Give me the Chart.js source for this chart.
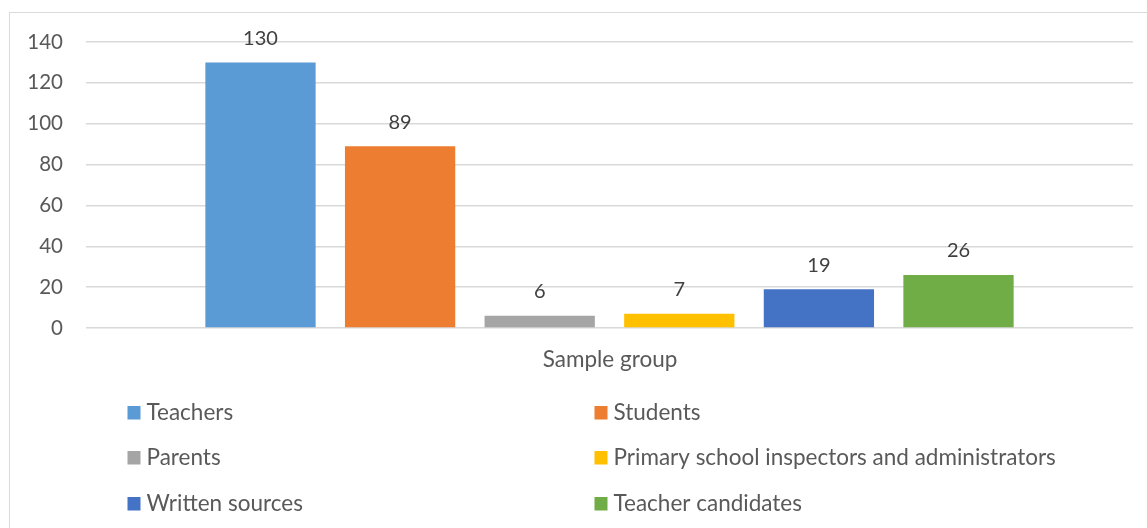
<!DOCTYPE html>
<html>
<head>
<meta charset="utf-8">
<script src="https://cdn.jsdelivr.net/npm/chart.js@4.4.0/dist/chart.umd.min.js"></script>
<style>
html,body{margin:0;padding:0;background:#fff;}
#wrap{position:relative;width:1147px;height:528px;}
</style>
</head>
<body>
<div id="wrap"><canvas id="c" width="1147" height="528"></canvas></div>
<script>
const categories = ["Sample group"];
const seriesNames = ["Teachers","Students","Parents","Primary school inspectors and administrators","Written sources","Teacher candidates"];
const seriesValues = [130, 89, 6, 7, 19, 26];
const seriesColors = ["#5B9BD5","#ED7D31","#A5A5A5","#FFC000","#4472C4","#70AD47"];
const yTicks = [0,20,40,60,80,100,120,140];

const FONT = "Lato, 'Open Sans', sans-serif";
const TXT = "#595959";

const datasets = seriesNames.map((n,i)=>({
  label:n, data:[seriesValues[i]], backgroundColor:seriesColors[i],
  categoryPercentage:0.8, barPercentage:0.79
}));

const extras = {
  id:'extras',
  beforeDraw(chart){
    const ctx=chart.ctx;
    ctx.save();
    ctx.fillStyle='#fff';ctx.fillRect(0,0,chart.width,chart.height);
    ctx.strokeStyle='#D9D9D9';ctx.lineWidth=1;
    ctx.strokeRect(9.5,12.5,1150,530);
    ctx.restore();
  },
  afterDatasetsDraw(chart){
    const ctx=chart.ctx;
    ctx.save();
    ctx.font="20px "+FONT;
    ctx.fillStyle="#404040";
    ctx.textAlign='center';ctx.textBaseline='alphabetic';
    chart.data.datasets.forEach((ds,i)=>{
      const m=chart.getDatasetMeta(i).data[0];
      ctx.fillText(String(ds.data[0]), m.x, m.y-17.5);
    });
    // axis title
    ctx.font="22.5px "+FONT;
    ctx.fillStyle=TXT;
    const ca=chart.chartArea;
    ctx.fillText(categories[0], (ca.left+ca.right)/2+0.5, 367);
    // legend
    ctx.textAlign='left';
    const colX=[127.5,594.5], rowY=[420,465,511];
    chart.data.datasets.forEach((ds,i)=>{
      const x=colX[i%2], y=rowY[Math.floor(i/2)];
      ctx.fillStyle=ds.backgroundColor;
      ctx.fillRect(x,y-14,13,13.5);
      ctx.fillStyle=TXT;
      ctx.fillText(ds.label,x+19,y);
    });
    ctx.restore();
  }
};

new Chart(document.getElementById('c'),{
  type:'bar',
  data:{labels:categories,datasets},
  options:{
    responsive:false,animation:false,
    layout:{padding:{left:0,right:14,top:42,bottom:200}},
    plugins:{legend:{display:false},tooltip:{enabled:false}},
    scales:{
      x:{display:false},
      y:{
        min:0,max:140,
        afterBuildTicks(s){s.ticks=yTicks.map(v=>({value:v}));},
        afterFit(s){s.width=86;},
        border:{display:false},
        grid:{color:'#D9D9D9',lineWidth:1.5,drawTicks:false},
        ticks:{padding:23,color:TXT,font:{family:FONT,size:20.5}}
      }
    }
  },
  plugins:[extras]
});
</script>
</body>
</html>
